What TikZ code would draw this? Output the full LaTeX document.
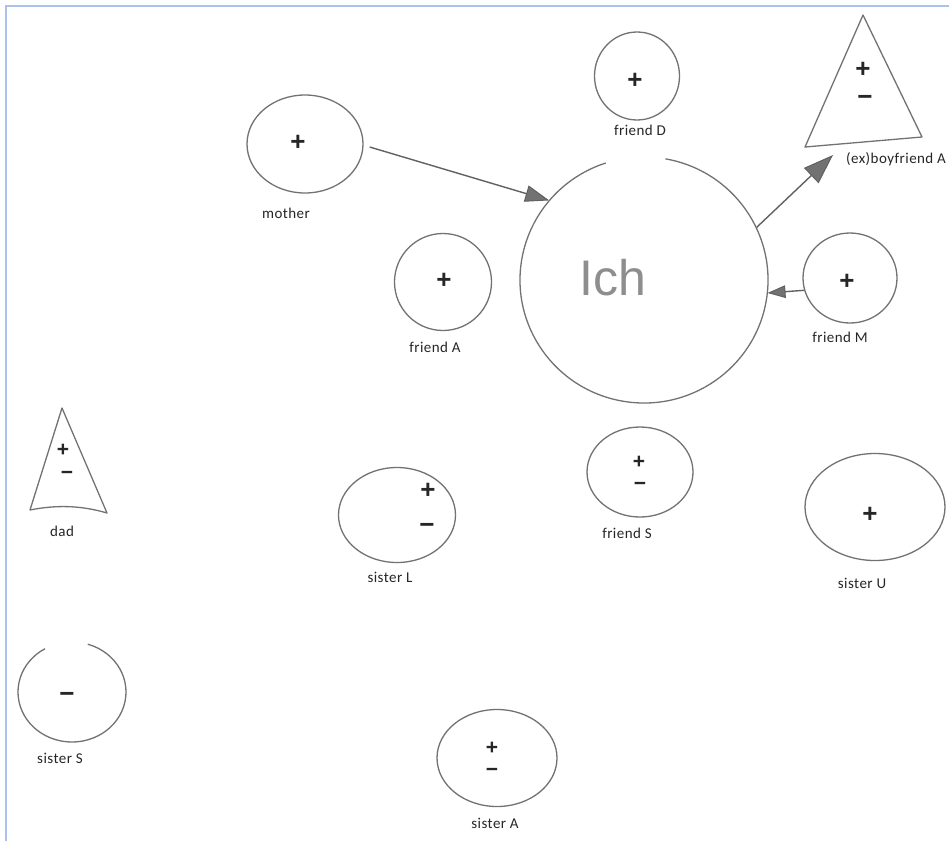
\documentclass[tikz,border=0pt]{standalone}
\usepackage{fontspec}
\setmainfont{Carlito}
\newfontfamily\ichfont{Liberation Sans}
\newfontfamily\signfont{Liberation Sans}
\usetikzlibrary{shapes.geometric,arrows.meta}
\definecolor{pen}{HTML}{727272}
\definecolor{ink}{HTML}{262626}
\definecolor{framec}{RGB}{170,192,238}
\begin{document}
\begin{tikzpicture}[x=1pt,y=-1pt,
  person/.style={ellipse,draw=pen,line width=1.3pt,inner sep=0pt},
  hidden/.style={ellipse,inner sep=0pt},
  sketch/.style={draw=pen,line width=1.3pt,line join=round},
  sign/.style={font=\signfont\bfseries\fontsize{26}{26}\selectfont,text=ink,inner sep=0pt},
  smallsign/.style={font=\signfont\bfseries\fontsize{21}{21}\selectfont,text=ink,inner sep=0pt},
  lbl/.style={font=\fontsize{15}{15}\selectfont\addfontfeatures{LetterSpace=3},text=ink,inner sep=0pt},
  arr/.style={draw=pen!85!black,line width=1.4pt,
    -{Triangle[length=#1,width=0.7*#1,fill=pen,line width=1pt]}},
  arr/.default=22pt
]
\useasboundingbox (0,0) rectangle (949,841);
\fill[white] (0,0) rectangle (949,841);
% frame
\draw[framec,line width=2.5pt] (6,841) -- (6,6) -- (949,6);

% ---------- Ich ----------
\node[hidden,minimum width=248pt,minimum height=246pt] (ich) at (644,280) {};
\draw[sketch] (ich.center) ++(280:124 and 123)
  arc[start angle=280,end angle=612,x radius=124,y radius=123];
\node[font=\ichfont\fontsize{50}{50}\selectfont,text=pen!80!white,inner sep=0pt] (ichT) at (613,278) {Ich};

% ---------- persons ----------
\node[person,minimum width=116pt,minimum height=98pt] (mother) at (305,144) {};
\node[sign] (motherP) at (298,143) {+};
\node[lbl] (motherL) at (286,213) {mother};

\node[person,minimum width=85pt,minimum height=88pt] (friendD) at (637,76) {};
\node[sign] (friendDP) at (635,81) {+};
\node[lbl] (friendDL) at (640,130) {friend D};

\coordinate (bfT) at (863,15);
\coordinate (bfL) at (805,147);
\coordinate (bfR) at (922,137);
\draw[sketch] (bfT) -- (bfR) -- (bfL) -- cycle;
\node[sign] (bfP) at (863,70) {+};
\node[sign] (bfM) at (865,100) {−};
\node[lbl] (bfLbl) at (896,159) {(ex)boyfriend A};
\coordinate (bfTip) at (833,155);

\node[person,minimum width=94pt,minimum height=90pt] (friendM) at (850,278) {};
\node[sign] (friendMP) at (847,282) {+};
\node[lbl] (friendML) at (840,337) {friend M};

\node[person,minimum width=97pt,minimum height=97pt] (friendA) at (443,282) {};
\node[sign] (friendAP) at (444,281) {+};
\node[lbl] (friendAL) at (435,347) {friend A};

\coordinate (dadT) at (62,408);
\coordinate (dadL) at (30,510);
\coordinate (dadR) at (107,513);
\draw[sketch] (dadT) -- (dadR) .. controls (80,505) and (55,505) .. (dadL) -- cycle;
\node[smallsign] (dadP) at (63,450) {+};
\node[smallsign] (dadM) at (67,475) {−};
\node[lbl] (dadLbl) at (62,531) {dad};

\node[hidden,minimum width=108pt,minimum height=100pt] (sisterS) at (72,692) {};
\draw[sketch] (sisterS.center) ++(287:54 and 50)
  arc[start angle=287,end angle=600,x radius=54,y radius=50];
\node[sign] (sisterSM) at (67,697) {−};
\node[lbl] (sisterSL) at (60,758) {sister S};

\node[person,minimum width=117pt,minimum height=95pt] (sisterL) at (397,515) {};
\node[sign] (sisterLP) at (428,491) {+};
\node[sign] (sisterLM) at (427,528) {−};
\node[lbl] (sisterLL) at (390,577) {sister L};

\node[person,minimum width=106pt,minimum height=90pt] (friendS) at (640,472) {};
\node[smallsign] (friendSP) at (639,462) {+};
\node[smallsign] (friendSM) at (640,486) {−};
\node[lbl] (friendSL) at (627,533) {friend S};

\node[person,minimum width=140pt,minimum height=107pt] (sisterU) at (875,507) {};
\node[sign] (sisterUP) at (870,515) {+};
\node[lbl] (sisterUL) at (862,583) {sister U};

\node[person,minimum width=120pt,minimum height=97pt] (sisterA) at (497,758) {};
\node[smallsign] (sisterAP) at (492,748) {+};
\node[smallsign] (sisterAM) at (492,772) {−};
\node[lbl] (sisterAL) at (495,823) {sister A};

% ---------- arrows ----------
\draw[arr=24pt] ([xshift=6pt,yshift=-3pt]mother.east) -- (ich.140);
\draw[arr=30pt] (ich.25) -- (bfTip);
\draw[arr=18pt] (friendM.195) -- (ich.-6);
\end{tikzpicture}
\end{document}
